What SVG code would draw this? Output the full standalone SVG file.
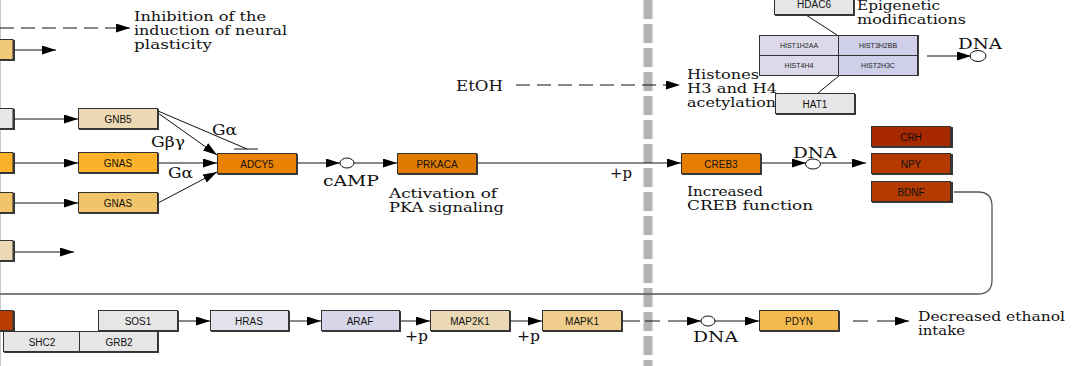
<svg xmlns="http://www.w3.org/2000/svg" width="1077" height="366" viewBox="0 0 1077 366">
<style>
.bx{stroke:#333;stroke-width:1}
.sh{fill:#3a3a3a}
.bt{font-family:"Liberation Sans",Arial,sans-serif;font-size:10px;fill:#111;text-anchor:middle}
.st{font-family:"Liberation Sans",Arial,sans-serif;font-size:7px;fill:#222;text-anchor:middle}
.lb{font-family:"DejaVu Serif","Liberation Serif",serif;font-size:14px;fill:#111}
.ml{font-family:"DejaVu Serif","Liberation Serif",serif;font-size:12px;fill:#111}
.ln{stroke:#111;stroke-width:1;fill:none}
.dl{stroke:#111;stroke-width:1;fill:none;stroke-dasharray:14 7}
.gr{stroke:#555;stroke-width:1.3;fill:none}
</style>
<defs>
<marker id="ah" markerUnits="userSpaceOnUse" markerWidth="15" markerHeight="10" refX="14" refY="4.5" orient="auto">
<path d="M0,0 L14,4.5 L0,9 z" fill="#000"/>
</marker>
</defs>
<rect width="1077" height="366" fill="#fff"/>
<line x1="0.5" y1="0" x2="0.5" y2="366" stroke="#c8c8c8" stroke-width="1"/>
<line x1="648" y1="0" x2="648" y2="366" stroke="#b3b3b3" stroke-width="9" stroke-dasharray="19 5"/>

<g id="connectors">
<line class="dl" x1="0" y1="28" x2="130" y2="28" marker-end="url(#ah)"/>
<line class="ln" x1="14" y1="50" x2="56" y2="50" marker-end="url(#ah)"/>
<line class="ln" x1="14" y1="119" x2="78" y2="119" marker-end="url(#ah)"/>
<line class="ln" x1="14" y1="163" x2="78" y2="163" marker-end="url(#ah)"/>
<line class="ln" x1="14" y1="203" x2="78" y2="203" marker-end="url(#ah)"/>
<line class="ln" x1="14" y1="252" x2="74" y2="252" marker-end="url(#ah)"/>
<line class="ln" x1="158" y1="113" x2="217" y2="155" marker-end="url(#ah)"/>
<line class="ln" x1="158" y1="111" x2="247" y2="149"/>
<line class="ln" x1="234" y1="149" x2="258" y2="149" stroke-width="1.5"/>
<line class="ln" x1="158" y1="163" x2="217" y2="163" marker-end="url(#ah)"/>
<line class="ln" x1="158" y1="203" x2="217" y2="172" marker-end="url(#ah)"/>
<line class="ln" x1="298" y1="163" x2="340" y2="163" marker-end="url(#ah)"/>
<line class="ln" x1="354" y1="163" x2="397" y2="163" marker-end="url(#ah)"/>
<line class="ln" x1="478" y1="163" x2="681" y2="163" marker-end="url(#ah)"/>
<line class="dl" x1="516" y1="85" x2="680" y2="85" marker-end="url(#ah)"/>
<line class="ln" x1="762" y1="163" x2="806" y2="163" marker-end="url(#ah)"/>
<line class="ln" x1="821" y1="163" x2="866" y2="163" marker-end="url(#ah)"/>
<line class="ln" x1="806" y1="15" x2="837" y2="35"/>
<line class="ln" x1="840" y1="75" x2="818" y2="93"/>
<line class="ln" x1="927" y1="56" x2="971" y2="56" marker-end="url(#ah)"/>
<path class="gr" d="M954,192 H978 Q992,192 992,206 V280 Q992,294 978,294 H0"/>
<line class="ln" x1="179" y1="321" x2="210" y2="321" marker-end="url(#ah)"/>
<line class="ln" x1="290" y1="321" x2="321" y2="321" marker-end="url(#ah)"/>
<line class="ln" x1="401" y1="321" x2="430" y2="321" marker-end="url(#ah)"/>
<line class="ln" x1="511" y1="321" x2="542" y2="321" marker-end="url(#ah)"/>
<line class="ln" x1="623" y1="321" x2="640" y2="321"/>
<line class="ln" x1="645" y1="321" x2="660" y2="321"/>
<line class="ln" x1="668" y1="321" x2="701" y2="321" marker-end="url(#ah)"/>
<line class="ln" x1="715" y1="321" x2="759" y2="321" marker-end="url(#ah)"/>
<line class="ln" x1="853" y1="321" x2="868" y2="321"/>
<line class="ln" x1="877" y1="321" x2="909" y2="321" marker-end="url(#ah)"/>
</g>

<g id="compounds">
<ellipse cx="347" cy="163" rx="7" ry="5" fill="#fff" stroke="#111"/>
<ellipse cx="813" cy="164" rx="7.5" ry="5" fill="#fff" stroke="#111"/>
<ellipse cx="978" cy="56" rx="8" ry="5.5" fill="#fff" stroke="#111"/>
<ellipse cx="708" cy="321" rx="7" ry="5" fill="#fff" stroke="#111"/>
</g>

<g id="left-boxes">
<rect class="sh" x="-5" y="40" width="20" height="21"/><rect class="bx" x="-6" y="39.5" width="19" height="20" fill="#f2c87a"/>
<rect class="sh" x="-5" y="109" width="20" height="21"/><rect class="bx" x="-6" y="108.5" width="19" height="20" fill="#e6e6e6"/>
<rect class="sh" x="-5" y="153" width="20" height="21"/><rect class="bx" x="-6" y="152.5" width="19" height="20" fill="#fbb12a"/>
<rect class="sh" x="-5" y="193" width="20" height="21"/><rect class="bx" x="-6" y="192.5" width="19" height="20" fill="#f2c46a"/>
<rect class="sh" x="-5" y="241" width="20" height="21"/><rect class="bx" x="-6" y="240.5" width="19" height="20" fill="#ebd9b4"/>
<rect class="sh" x="-5" y="311" width="20" height="21"/><rect class="bx" x="-6" y="310.5" width="19" height="20" fill="#b83b00"/>
</g>

<g id="GNB5"><rect class="sh" x="79" y="109" width="80" height="21"/><rect class="bx" x="78.5" y="108.5" width="79" height="20" fill="#ebd9b4"/><text class="bt" x="118" y="122.5">GNB5</text></g>
<g id="GNAS1"><rect class="sh" x="79" y="153" width="80" height="21"/><rect class="bx" x="78.5" y="152.5" width="79" height="20" fill="#fbb12a"/><text class="bt" x="118" y="166.5">GNAS</text></g>
<g id="GNAS2"><rect class="sh" x="79" y="193" width="80" height="21"/><rect class="bx" x="78.5" y="192.5" width="79" height="20" fill="#f2c46a"/><text class="bt" x="118" y="206.5">GNAS</text></g>
<g id="ADCY5"><rect class="sh" x="218" y="154" width="80" height="21"/><rect class="bx" x="217.5" y="153.5" width="79" height="20" fill="#e88200"/><text class="bt" x="257" y="167.5">ADCY5</text></g>
<g id="PRKACA"><rect class="sh" x="398" y="154" width="80" height="21"/><rect class="bx" x="397.5" y="153.5" width="79" height="20" fill="#e07b00"/><text class="bt" x="437" y="167.5">PRKACA</text></g>
<g id="CREB3"><rect class="sh" x="682" y="154" width="80" height="21"/><rect class="bx" x="681.5" y="153.5" width="79" height="20" fill="#e57e00"/><text class="bt" x="721" y="167.5">CREB3</text></g>
<g id="CRH"><rect class="sh" x="872" y="127" width="81" height="21"/><rect class="bx" x="871.5" y="126.5" width="79" height="20" fill="#a82800"/><text class="bt" x="911" y="140.5">CRH</text></g>
<g id="NPY"><rect class="sh" x="872" y="154" width="81" height="21"/><rect class="bx" x="871.5" y="153.5" width="79" height="20" fill="#b53a00"/><text class="bt" x="911" y="167.5">NPY</text></g>
<g id="BDNF"><rect class="sh" x="872" y="182" width="81" height="21"/><rect class="bx" x="871.5" y="181.5" width="79" height="20" fill="#b33a00"/><text class="bt" x="911" y="195.5">BDNF</text></g>
<g id="HDAC6"><rect class="sh" x="775" y="-5" width="80" height="21"/><rect class="bx" x="774.5" y="-5.5" width="79" height="20" fill="#e6e6e6"/><text class="bt" x="814" y="8">HDAC6</text></g>
<g id="HAT1"><rect class="sh" x="776" y="94" width="80" height="21"/><rect class="bx" x="775.5" y="93.5" width="79" height="20" fill="#e6e6e6"/><text class="bt" x="815" y="107.5">HAT1</text></g>
<g id="histones">
<rect class="sh" x="760" y="35" width="159" height="41"/>
<rect class="bx" x="759.5" y="35.5" width="79" height="20" fill="#dcdaea"/><text class="st" x="799" y="48">HIST1H2AA</text>
<rect class="bx" x="838.5" y="35.5" width="79" height="20" fill="#cfcfea"/><text class="st" x="878" y="48">HIST3H2BB</text>
<rect class="bx" x="759.5" y="55.5" width="79" height="20" fill="#dcdaea"/><text class="st" x="799" y="68">HIST4H4</text>
<rect class="bx" x="838.5" y="55.5" width="79" height="20" fill="#cfcfea"/><text class="st" x="878" y="68">HIST2H3C</text>
</g>
<g id="SOS1"><rect class="sh" x="99" y="311" width="80" height="21"/><rect class="bx" x="98.5" y="310.5" width="79" height="20" fill="#e6e6e6"/><text class="bt" x="138" y="324.5">SOS1</text></g>
<g id="SHC2"><rect class="sh" x="4" y="332" width="155" height="21"/><rect class="bx" x="3.5" y="331.5" width="76" height="20" fill="#e6e6e6"/><text class="bt" x="42" y="345.5">SHC2</text></g>
<g id="GRB2"><rect class="bx" x="79.5" y="331.5" width="78" height="20" fill="#e6e6e6"/><text class="bt" x="119" y="345.5">GRB2</text></g>
<g id="HRAS"><rect class="sh" x="211" y="311" width="79" height="21"/><rect class="bx" x="210.5" y="310.5" width="78" height="20" fill="#e2e2ec"/><text class="bt" x="249" y="324.5">HRAS</text></g>
<g id="ARAF"><rect class="sh" x="322" y="311" width="79" height="21"/><rect class="bx" x="321.5" y="310.5" width="78" height="20" fill="#d6d6e8"/><text class="bt" x="360" y="324.5">ARAF</text></g>
<g id="MAP2K1"><rect class="sh" x="431" y="311" width="80" height="21"/><rect class="bx" x="430.5" y="310.5" width="79" height="20" fill="#ebd9b5"/><text class="bt" x="470" y="324.5">MAP2K1</text></g>
<g id="MAPK1"><rect class="sh" x="543" y="311" width="80" height="21"/><rect class="bx" x="542.5" y="310.5" width="79" height="20" fill="#f0cd8c"/><text class="bt" x="582" y="324.5">MAPK1</text></g>
<g id="PDYN"><rect class="sh" x="760" y="311" width="80" height="21"/><rect class="bx" x="759.5" y="310.5" width="79" height="20" fill="#f5ba4f"/><text class="bt" x="799" y="324.5">PDYN</text></g>

<g id="labels">
<text class="ml"><tspan x="134" y="21" textLength="132" lengthAdjust="spacingAndGlyphs">Inhibition of the</tspan><tspan x="134" y="35" textLength="153" lengthAdjust="spacingAndGlyphs">induction of neural</tspan><tspan x="134" y="49" textLength="78" lengthAdjust="spacingAndGlyphs">plasticity</tspan></text>
<text class="lb" x="212" y="135" textLength="25" lengthAdjust="spacingAndGlyphs">Gα</text>
<text class="lb" x="151" y="147" textLength="34" lengthAdjust="spacingAndGlyphs">Gβγ</text>
<text class="lb" x="168" y="178" textLength="25" lengthAdjust="spacingAndGlyphs">Gα</text>
<text class="lb" x="323" y="186" textLength="56" lengthAdjust="spacingAndGlyphs">cAMP</text>
<text class="ml"><tspan x="389" y="198" textLength="108" lengthAdjust="spacingAndGlyphs">Activation of</tspan><tspan x="389" y="212" textLength="115" lengthAdjust="spacingAndGlyphs">PKA signaling</tspan></text>
<text class="lb" x="610" y="178" textLength="22" lengthAdjust="spacingAndGlyphs">+p</text>
<text class="lb" x="456" y="91" textLength="47" lengthAdjust="spacingAndGlyphs">EtOH</text>
<text class="ml"><tspan x="687" y="79" textLength="72" lengthAdjust="spacingAndGlyphs">Histones</tspan><tspan x="687" y="93" textLength="90" lengthAdjust="spacingAndGlyphs">H3 and H4</tspan><tspan x="687" y="107" textLength="89" lengthAdjust="spacingAndGlyphs">acetylation</tspan></text>
<text class="ml"><tspan x="857" y="10" textLength="83" lengthAdjust="spacingAndGlyphs">Epigenetic</tspan><tspan x="857" y="24" textLength="109" lengthAdjust="spacingAndGlyphs">modifications</tspan></text>
<text class="lb" x="958" y="49" textLength="44" lengthAdjust="spacingAndGlyphs">DNA</text>
<text class="lb" x="793" y="158" textLength="44" lengthAdjust="spacingAndGlyphs">DNA</text>
<text class="ml"><tspan x="687" y="196" textLength="76" lengthAdjust="spacingAndGlyphs">Increased</tspan><tspan x="687" y="210" textLength="126" lengthAdjust="spacingAndGlyphs">CREB function</tspan></text>
<text class="lb" x="405" y="341" textLength="23" lengthAdjust="spacingAndGlyphs">+p</text>
<text class="lb" x="517" y="341" textLength="23" lengthAdjust="spacingAndGlyphs">+p</text>
<text class="lb" x="693" y="342" textLength="45" lengthAdjust="spacingAndGlyphs">DNA</text>
<text class="ml"><tspan x="918" y="321" textLength="147" lengthAdjust="spacingAndGlyphs">Decreased ethanol</tspan><tspan x="918" y="335" textLength="47" lengthAdjust="spacingAndGlyphs">intake</tspan></text>
</g>
</svg>
